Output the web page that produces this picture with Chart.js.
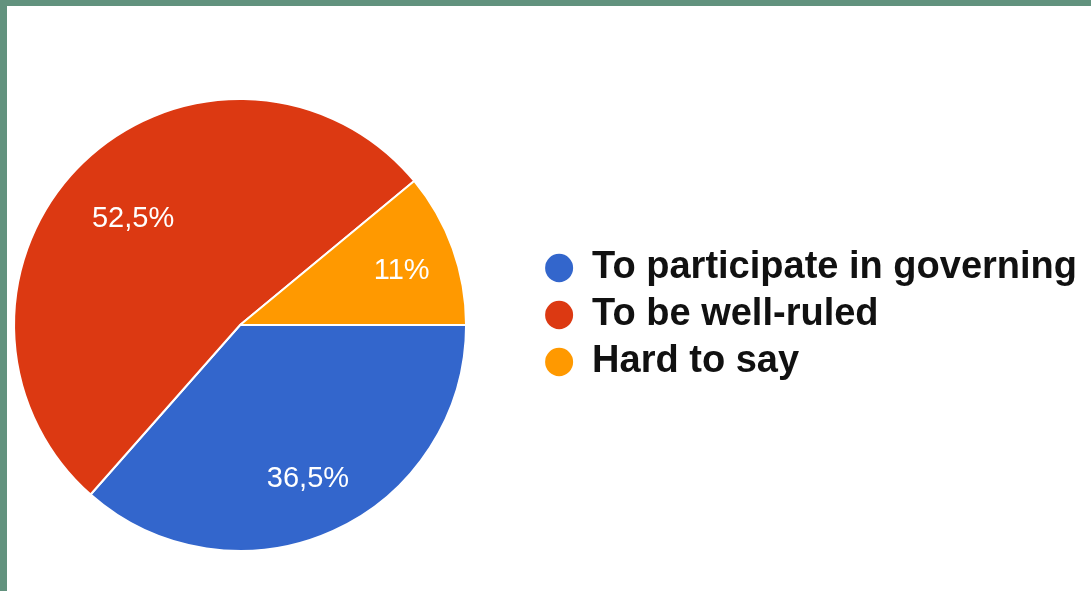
<!DOCTYPE html>
<html>
<head>
<meta charset="utf-8">
<script src="https://cdn.jsdelivr.net/npm/chart.js@4"></script>
<style>
    html, body {
        margin: 0;
        padding: 0;
        width: 1091px;
        height: 591px;
        overflow: hidden;
        background: #62927e;
    }
    #panel {
        position: absolute;
        left: 7px;
        top: 6px;
        width: 1084px;
        height: 585px;
        background: #ffffff;
        overflow: hidden;
    }
    /* canvas is a bit wider than the panel so the pie sits further left than Chart.js would put it */
    #pie-chart {
        position: absolute;
        left: -63px;
        top: 0;
    }
</style>
</head>
<body>
<div id="panel">
    <canvas id="pie-chart" width="1147" height="585"></canvas>
</div>
<script>
// Data
const answers = ['To participate in governing', 'To be well-ruled', 'Hard to say'];
const shares = [36.5, 52.5, 11];
const sliceColors = ['#3366cc', '#dc3912', '#ff9900'];

function formatShare(v) {
    return String(v).replace('.', ',') + '%';
}

// white % labels inside each slice (distance from centre as share of radius)
const LABEL_DIST = [0.73, 0.68, 0.76];

const sliceLabels = {
    id: 'sliceLabels',
    afterDatasetsDraw(chart) {
        const ctx = chart.ctx;
        const meta = chart.getDatasetMeta(0);
        ctx.save();
        ctx.fillStyle = '#ffffff';
        ctx.font = '29px "Liberation Sans", Arial, sans-serif';
        ctx.textAlign = 'center';
        ctx.textBaseline = 'middle';
        meta.data.forEach((arc, i) => {
            const mid = (arc.startAngle + arc.endAngle) / 2;
            const r = arc.outerRadius * LABEL_DIST[i];
            ctx.fillText(formatShare(shares[i]), arc.x + Math.cos(mid) * r, arc.y + Math.sin(mid) * r + 4);
        });
        ctx.restore();
    }
};

const ctx = document.getElementById('pie-chart').getContext('2d');
new Chart(ctx, {
    type: 'pie',
    data: {
        labels: answers,
        datasets: [{
            data: shares,
            backgroundColor: sliceColors,
            borderColor: '#ffffff',
            borderWidth: 2,
            radius: 226,
            clip: false
        }]
    },
    options: {
        responsive: false,
        animation: false,
        rotation: 90,
        layout: {
            padding: { left: 0, right: 4, top: 234, bottom: 181 }
        },
        plugins: {
            tooltip: { enabled: false },
            legend: {
                position: 'right',
                align: 'start',
                labels: {
                    usePointStyle: true,
                    pointStyle: 'circle',
                    pointStyleWidth: 28,
                    boxHeight: 20,
                    padding: 9,
                    color: '#111111',
                    font: { family: '"Liberation Sans", Arial, sans-serif', size: 38, weight: 'bold' },
                    generateLabels(chart) {
                        const items = Chart.overrides.pie.plugins.legend.labels.generateLabels(chart);
                        items.forEach(item => { item.lineWidth = 0; });
                        return items;
                    }
                }
            }
        }
    },
    plugins: [sliceLabels]
});
</script>
</body>
</html>
